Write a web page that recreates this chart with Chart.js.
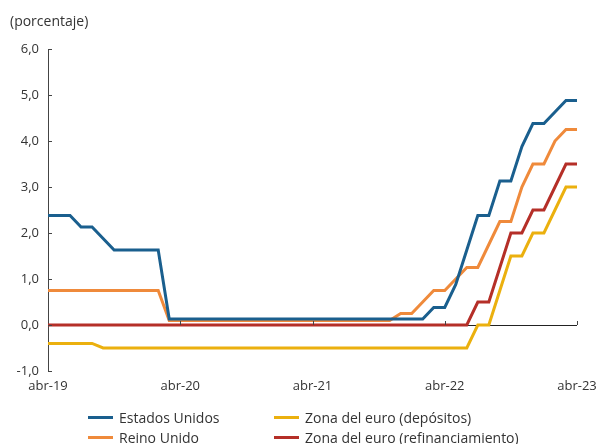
<!DOCTYPE html>
<html>
<head>
<meta charset="utf-8">
<script src="https://cdn.jsdelivr.net/npm/chart.js@4"></script>
<style>
  body { margin: 0; background: #fff; font-family: "Open Sans", sans-serif; color: #333; }
  #wrap { position: relative; width: 599px; height: 444px; }
  #title { position: absolute; left: 10px; top: 11px; font-size: 14px; color: #333; }
  #legend { position: absolute; left: 88px; top: 408px; display: grid;
            grid-template-columns: 186px auto; row-gap: 1px; font-size: 14px; color: #333; }
  .item { display: flex; align-items: center; height: 19px; white-space: nowrap; }
  .swatch { width: 25px; height: 3px; margin-right: 6px; }
</style>
</head>
<body>
<div id="wrap">
  <canvas id="ratesChart" width="599" height="444"></canvas>
  <div id="title">(porcentaje)</div>
  <div id="legend"></div>
</div>
<script>
// months from abr-19 to abr-23 (end of month)
const months = [
  "abr-19", "may-19", "jun-19", "jul-19", "ago-19", "sep-19", "oct-19", "nov-19", "dic-19",
  "ene-20", "feb-20", "mar-20", "abr-20", "may-20", "jun-20", "jul-20", "ago-20", "sep-20",
  "oct-20", "nov-20", "dic-20", "ene-21", "feb-21", "mar-21", "abr-21", "may-21", "jun-21",
  "jul-21", "ago-21", "sep-21", "oct-21", "nov-21", "dic-21", "ene-22", "feb-22", "mar-22",
  "abr-22", "may-22", "jun-22", "jul-22", "ago-22", "sep-22", "oct-22", "nov-22", "dic-22",
  "ene-23", "feb-23", "mar-23", "abr-23"
];

const estadosUnidos = [
  2.38, 2.38, 2.38, 2.13, 2.13, 1.88, 1.63, 1.63, 1.63, 1.63, 1.63,
  0.13, 0.13, 0.13, 0.13, 0.13, 0.13, 0.13, 0.13, 0.13, 0.13, 0.13, 0.13,
  0.13, 0.13, 0.13, 0.13, 0.13, 0.13, 0.13, 0.13, 0.13, 0.13, 0.13, 0.13,
  0.38, 0.38, 0.88, 1.63, 2.38, 2.38, 3.13, 3.13, 3.88, 4.38, 4.38, 4.63, 4.88, 4.88
];

const reinoUnido = [
  0.75, 0.75, 0.75, 0.75, 0.75, 0.75, 0.75, 0.75, 0.75, 0.75, 0.75,
  0.10, 0.10, 0.10, 0.10, 0.10, 0.10, 0.10, 0.10, 0.10, 0.10, 0.10,
  0.10, 0.10, 0.10, 0.10, 0.10, 0.10, 0.10, 0.10, 0.10, 0.10,
  0.25, 0.25, 0.50, 0.75, 0.75, 1.00, 1.25, 1.25, 1.75, 2.25, 2.25, 3.00, 3.50, 3.50, 4.00, 4.25, 4.25
];

const euroDepositos = [
  -0.4, -0.4, -0.4, -0.4, -0.4,
  -0.5, -0.5, -0.5, -0.5, -0.5, -0.5, -0.5, -0.5, -0.5, -0.5, -0.5, -0.5,
  -0.5, -0.5, -0.5, -0.5, -0.5, -0.5, -0.5, -0.5, -0.5, -0.5, -0.5, -0.5,
  -0.5, -0.5, -0.5, -0.5, -0.5, -0.5, -0.5, -0.5, -0.5, -0.5,
  0.0, 0.0, 0.75, 1.5, 1.5, 2.0, 2.0, 2.5, 3.0, 3.0
];

const euroRefinanciamiento = [
  0, 0, 0, 0, 0, 0, 0, 0, 0, 0, 0, 0, 0, 0, 0, 0, 0, 0, 0, 0,
  0, 0, 0, 0, 0, 0, 0, 0, 0, 0, 0, 0, 0, 0, 0, 0, 0, 0, 0,
  0.5, 0.5, 1.25, 2.0, 2.0, 2.5, 2.5, 3.0, 3.5, 3.5
];

const yTicks = [-1, 0, 1, 2, 3, 4, 5, 6];

// legend order: row by row, two columns
const series = [
  { name: "Estados Unidos", data: estadosUnidos, color: "#1a5f8e", order: 3 },
  { name: "Zona del euro (depósitos)", data: euroDepositos, color: "#ebb00e", order: 2 },
  { name: "Reino Unido", data: reinoUnido, color: "#ef8a3b", order: 4 },
  { name: "Zona del euro (refinanciamiento)", data: euroRefinanciamiento, color: "#b52f28", order: 1 }
];

const axisColor = "#444";

// small ticks inside the y axis and above the zero line
const axisTicks = {
  id: "axisTicks",
  afterDatasetsDraw(chart) {
    const ctx = chart.ctx;
    const x = chart.scales.x, y = chart.scales.y;
    ctx.save();
    ctx.strokeStyle = axisColor;
    ctx.lineWidth = 1;
    ctx.beginPath();
    yTicks.forEach(v => {
      const py = Math.round(y.getPixelForValue(v)) + 0.5;
      ctx.moveTo(x.left, py);
      ctx.lineTo(x.left + 4, py);
    });
    const y0 = Math.round(y.getPixelForValue(0));
    months.forEach((m, i) => {
      if (i > 0 && i % 12 === 0) {
        const px = Math.round(x.getPixelForValue(i)) + 0.5;
        ctx.moveTo(px, y0);
        ctx.lineTo(px, y0 - 4);
      }
    });
    ctx.stroke();
    ctx.restore();
  }
};

const chart = new Chart(document.getElementById("ratesChart"), {
  type: "line",
  data: {
    labels: months,
    datasets: series.map(s => ({
      label: s.name,
      data: s.data,
      borderColor: s.color,
      backgroundColor: s.color,
      borderWidth: 3,
      pointRadius: 0,
      tension: 0,
      order: s.order
    }))
  },
  options: {
    responsive: false,
    animation: false,
    layout: { padding: { left: 0, right: 22, top: 49, bottom: 43 } },
    plugins: {
      legend: { display: false },
      tooltip: { enabled: false }
    },
    scales: {
      x: {
        type: "category",
        offset: false,
        grid: { display: false, drawTicks: false },
        border: { display: false },
        ticks: {
          autoSkip: false,
          maxRotation: 0,
          padding: 7,
          color: "#333",
          font: { family: "Open Sans", size: 13 },
          callback: (v, i) => (i % 12 === 0 ? months[i] : null)
        },
        afterFit: s => { s.height = 30; s.paddingLeft = 0; s.paddingRight = 0; }
      },
      y: {
        min: -1,
        max: 6,
        afterBuildTicks: s => { s.ticks = yTicks.map(v => ({ value: v })); },
        grid: {
          drawTicks: false,
          color: c => (c.tick && c.tick.value === 0 ? "#222" : "rgba(0,0,0,0)"),
          lineWidth: 1
        },
        border: { display: true, color: axisColor, width: 1 },
        ticks: {
          padding: 9,
          color: "#333",
          font: { family: "Open Sans", size: 13 },
          callback: v => v.toFixed(1).replace(".", ",")
        },
        afterFit: s => { s.width = 48; }
      }
    }
  },
  plugins: [axisTicks]
});

// html legend in two columns
const legend = document.getElementById("legend");
series.forEach(s => {
  const item = document.createElement("div");
  item.className = "item";
  const sw = document.createElement("span");
  sw.className = "swatch";
  sw.style.background = s.color;
  const txt = document.createElement("span");
  txt.textContent = s.name;
  item.appendChild(sw);
  item.appendChild(txt);
  legend.appendChild(item);
});
</script>
</body>
</html>
